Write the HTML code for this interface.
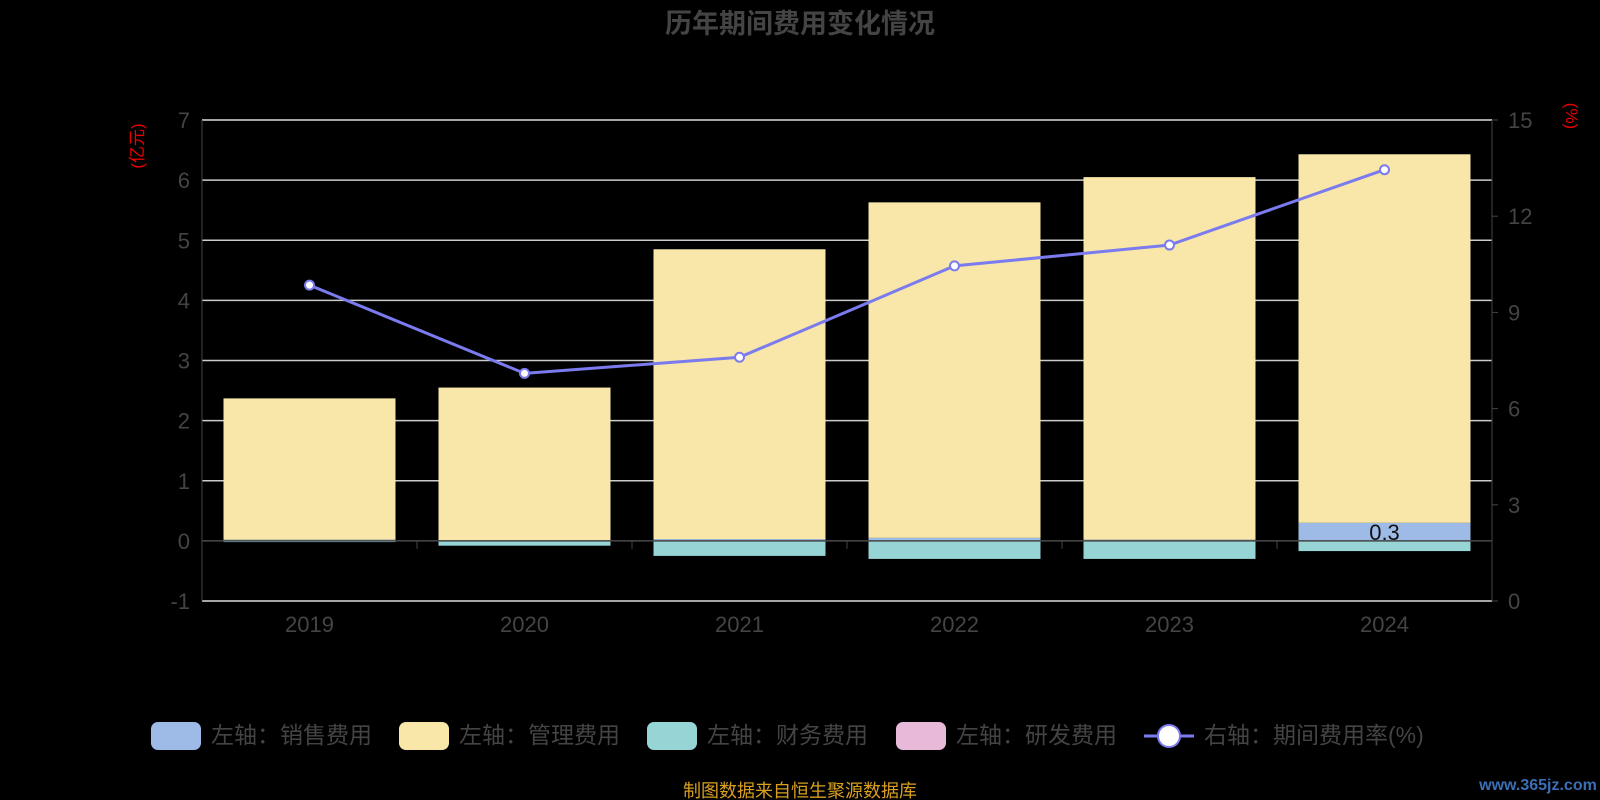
<!DOCTYPE html>
<html><head><meta charset="utf-8"><style>
html,body{margin:0;padding:0;background:#000;}
svg{display:block;font-family:"Liberation Sans","Noto Sans CJK SC",sans-serif;}
</style></head><body>
<svg id="chart" width="1600" height="800" viewBox="0 0 1600 800">
<text x="800" y="33" text-anchor="middle" font-size="27" font-weight="bold" fill="#444">历年期间费用变化情况</text>
<g id="grid"></g><g id="bars"></g><g id="axes"></g><g id="line"></g>
<text transform="translate(143,146) rotate(-90)" text-anchor="middle" font-size="17" fill="#e00">(亿元)</text>
<text transform="translate(1566,116) rotate(90)" text-anchor="middle" font-size="17" fill="#e00">(%)</text>
<g font-size="23" fill="#444">
<rect x="151" y="722" width="50" height="28" rx="7" fill="#9dbbe6"/>
<text x="211" y="743">左轴：销售费用</text>
<rect x="399" y="722" width="50" height="28" rx="7" fill="#f8e7a8"/>
<text x="459" y="743">左轴：管理费用</text>
<rect x="647" y="722" width="50" height="28" rx="7" fill="#97d4d6"/>
<text x="707" y="743">左轴：财务费用</text>
<rect x="896" y="722" width="50" height="28" rx="7" fill="#e8b9d9"/>
<text x="956" y="743">左轴：研发费用</text>
<line x1="1144" y1="736" x2="1194" y2="736" stroke="#7b7bf0" stroke-width="3"/>
<circle cx="1169" cy="736" r="11" fill="#fff" stroke="#7b7bf0" stroke-width="2"/>
<text x="1204" y="743">右轴：期间费用率(%)</text>
</g>
<text x="800" y="797" text-anchor="middle" font-size="18" fill="#d9a020">制图数据来自恒生聚源数据库</text>
<text x="1538" y="790" text-anchor="middle" font-size="16" font-weight="bold" fill="#3a6fb5">www.365jz.com</text>
</svg>
<script>
const years=["2019","2020","2021","2022","2023","2024"];
const sales=[0.02,0.01,0.03,0.05,0.02,0.3];
const admin=[2.35,2.54,4.82,5.58,6.03,6.13];
const finance=[-0.02,-0.08,-0.25,-0.3,-0.3,-0.17];
const rd=[0,0,0,0,0,0];
const rate=[9.85,7.1,7.6,10.45,11.1,13.45];
const leftTicks=[-1,0,1,2,3,4,5,6,7];
const rightTicks=[0,3,6,9,12,15];
const NS="http://www.w3.org/2000/svg";
const X0=202,X1=1492,YT=120,YB=601;
const yL=v=>YB-(v-(-1))/8*(YB-YT);
const yR=v=>YB-v/15*(YB-YT);
const band=(X1-X0)/years.length;
const xC=i=>X0+band*(i+0.5);
const bw=172;
function mk(tag,attrs,parent){const e=document.createElementNS(NS,tag);for(const k in attrs)e.setAttribute(k,attrs[k]);document.getElementById(parent).appendChild(e);return e;}
leftTicks.forEach(t=>{
 const g=mk('line',{x1:X0,x2:X1,y1:yL(t),y2:yL(t),stroke:t===-1||t===7?'#ddd':'#ccc','stroke-width':t===0?1:1.5},'grid');
 
 
 const l=mk('text',{x:X0-12,y:yL(t)+8,'text-anchor':'end','font-size':22,fill:'#444'},'axes');l.textContent=t;
 
 
});
mk('line',{x1:X0,x2:X1,y1:yL(0),y2:yL(0),stroke:'#444','stroke-width':1.5},'axes');
rightTicks.forEach(t=>{
 const l=mk('text',{x:X1+16,y:yR(t)+8,'font-size':22,fill:'#444'},'axes');l.textContent=t;
 
 
 mk('line',{x1:X1,x2:X1+6,y1:yR(t),y2:yR(t),stroke:'#444'},'axes');
});
mk('line',{x1:X0,x2:X0,y1:YT,y2:YB,stroke:'#444'},'axes');
mk('line',{x1:X1,x2:X1,y1:YT,y2:YB,stroke:'#444'},'axes');
years.forEach((y,i)=>{
 if(i>0)mk('line',{x1:X0+band*i,x2:X0+band*i,y1:yL(0),y2:yL(0)+8,stroke:'#444'},'axes');
 const t=mk('text',{x:xC(i),y:632,'text-anchor':'middle','font-size':22,fill:'#444'},'axes');t.textContent=y;
 
 
 const x=xC(i)-bw/2;
 const s=mk('rect',{x:x,y:yL(sales[i]),width:bw,height:yL(0)-yL(sales[i]),fill:'#9dbbe6'},'bars');
 
 
 const a=mk('rect',{x:x,y:yL(sales[i]+admin[i]),width:bw,height:yL(sales[i])-yL(sales[i]+admin[i]),fill:'#f8e7a8'},'bars');
 
 
 const f=mk('rect',{x:x,y:yL(0),width:bw,height:yL(finance[i])-yL(0),fill:'#97d4d6'},'bars');
 
 
 if(sales[i]>=0.2){const l=mk('text',{x:xC(i),y:yL(sales[i]/2)+8,'text-anchor':'middle','font-size':22,fill:'#111'},'bars');l.textContent=sales[i];
  
  }
});
const pts=rate.map((v,i)=>xC(i)+','+yR(v)).join(' ');
const pl=mk('polyline',{points:pts,fill:'none',stroke:'#7b7bf0','stroke-width':3},'line');


rate.forEach((v,i)=>{const c=mk('circle',{cx:xC(i),cy:yR(v),r:4.5,fill:'#fff',stroke:'#7b7bf0','stroke-width':2},'line');
 
 });
</script>
</body></html>
